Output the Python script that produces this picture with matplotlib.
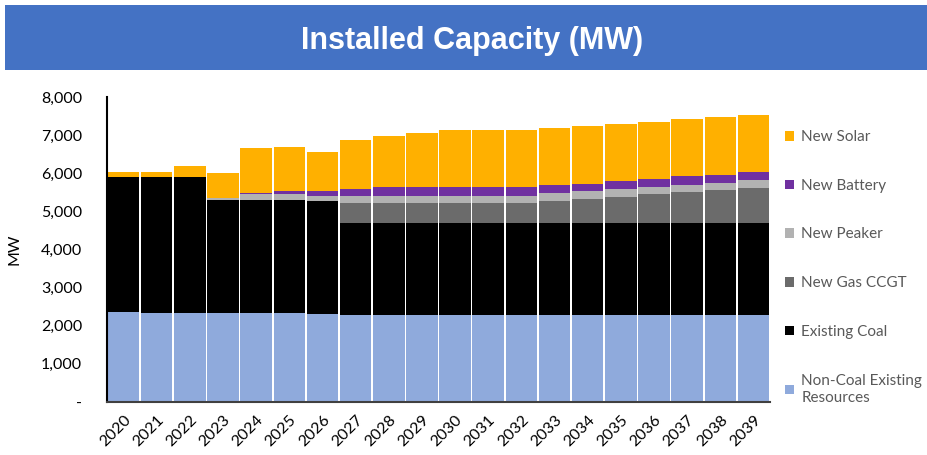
import numpy as np
import matplotlib
matplotlib.use("Agg")
import matplotlib.pyplot as plt
from matplotlib.patches import Rectangle
from matplotlib.ticker import FuncFormatter

years = [str(y) for y in range(2020, 2040)]

non_coal = [2360, 2340, 2340, 2340, 2340, 2340, 2310, 2290, 2290, 2290,
            2290, 2290, 2290, 2290, 2290, 2290, 2290, 2290, 2290, 2290]
existing_coal = [3530, 3550, 3550, 2970, 2970, 2970, 2950, 2400, 2400, 2400,
                 2400, 2400, 2400, 2400, 2400, 2400, 2400, 2400, 2400, 2400]
new_ccgt = [0, 0, 0, 0, 0, 0, 0, 540, 540, 540,
            540, 540, 540, 595, 640, 690, 760, 820, 865, 920]
new_peaker = [0, 0, 0, 50, 140, 140, 140, 185, 185, 185,
              185, 185, 185, 185, 200, 210, 185, 185, 200, 210]
new_battery = [0, 0, 0, 0, 30, 87, 140, 175, 218, 218,
               218, 218, 218, 210, 192, 200, 210, 220, 193, 218]
new_solar = [150, 150, 300, 640, 1170, 1150, 1010, 1270, 1350, 1435,
             1500, 1500, 1500, 1500, 1510, 1505, 1500, 1495, 1520, 1500]

series = [
    ("Non-Coal Existing\nResources", non_coal, "#8FAADC"),
    ("Existing Coal", existing_coal, "#000000"),
    ("New Gas CCGT", new_ccgt, "#6B6B6B"),
    ("New Peaker", new_peaker, "#B2B2B2"),
    ("New Battery", new_battery, "#7030A0"),
    ("New Solar", new_solar, "#FFB000"),
]

plt.rcParams['font.family'] = ['Lato', 'DejaVu Sans']

fig = plt.figure(figsize=(9.27, 4.55), dpi=100)

# title banner
fig.patches.append(Rectangle((5 / 927, 1 - 70 / 455), 1 - 5 / 927, 65 / 455,
                             transform=fig.transFigure, facecolor="#4472C4",
                             edgecolor="none", zorder=0))
fig.text(0.509, 1 - 41 / 455, "Installed Capacity (MW)", color="white",
         fontsize=22, fontweight="bold", ha="center", va="center",
         family=["Liberation Sans", "DejaVu Sans"])

ax = fig.add_axes([107 / 927, 1 - 402 / 455, (770 - 107) / 927, (402 - 97) / 455])

x = np.arange(len(years))
bottom = np.zeros(len(years))
handles = []
for label, vals, color in series:
    b = ax.bar(x, vals, width=0.95, bottom=bottom, color=color, label=label)
    bottom += np.array(vals)
    handles.append(b)

ax.set_xlim(-0.5, len(years) - 0.5)
ax.set_ylim(0, 8000)
ax.set_yticks(np.arange(0, 8001, 1000))
ax.yaxis.set_major_formatter(FuncFormatter(lambda v, p: "-" if v == 0 else f"{int(v):,}"))
ax.set_xticks(x)
ax.set_xticklabels(years, rotation=45, ha="right", rotation_mode="anchor")
ax.tick_params(axis="both", length=0, labelsize=11.5, colors="black")
ax.tick_params(axis="y", pad=18)
ax.tick_params(axis="x", pad=8)
ax.set_ylabel("MW", fontsize=11.5, labelpad=14)

for s in ["top", "right"]:
    ax.spines[s].set_visible(False)
ax.spines["left"].set_color("black")
ax.spines["left"].set_linewidth(1.5)
ax.spines["bottom"].set_color("#404040")
ax.spines["bottom"].set_linewidth(1.5)

leg = fig.legend(handles[::-1], [s[0] for s in series][::-1],
                 loc="upper left", bbox_to_anchor=(779 / 927, 1 - 124 / 455),
                 frameon=False, fontsize=11, handlelength=0.6, handleheight=0.6,
                 handletextpad=0.45, labelspacing=2.27, borderaxespad=0)
for t in leg.get_texts():
    t.set_color("#595959")
    t.set_linespacing(1.35)

fig.savefig("out.png", dpi=100)
